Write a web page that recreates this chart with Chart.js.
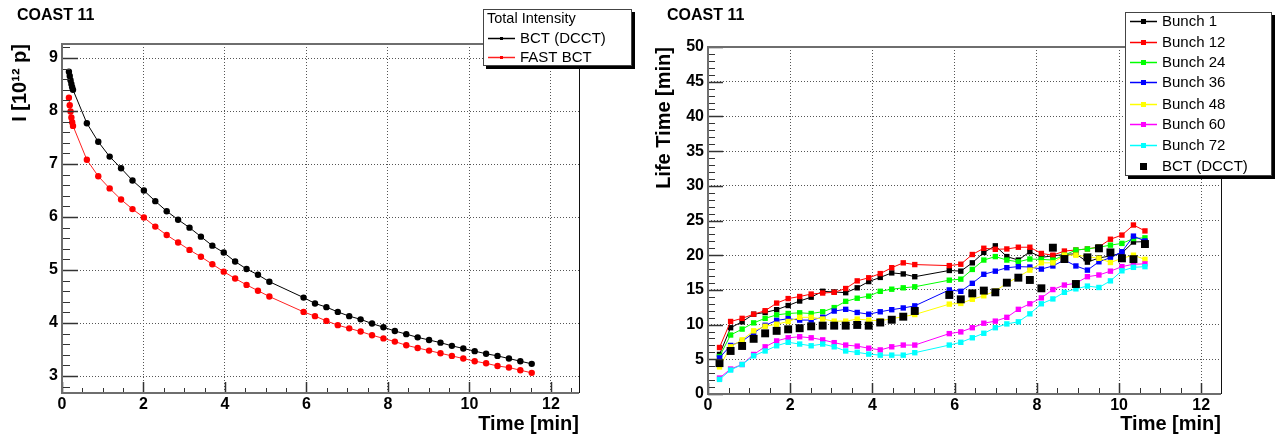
<!DOCTYPE html>
<html>
<head>
<meta charset="utf-8">
<title>COAST 11</title>
<script src="https://cdn.jsdelivr.net/npm/chart.js@4.4.0/dist/chart.umd.min.js"></script>
<style>
  html, body { margin: 0; padding: 0; background: #fff; }
  #wrap { position: relative; width: 1276px; height: 436px; }
  .panel { position: absolute; top: 0; width: 638px; height: 436px; }
  #p1 { left: 0; }
  #p2 { left: 638px; }
</style>
</head>
<body>
<div id="wrap">
  <div class="panel" id="p1"><canvas id="c1" width="638" height="436"></canvas></div>
  <div class="panel" id="p2"><canvas id="c2" width="638" height="436"></canvas></div>
</div>
<script>
'use strict';

// ---- left panel: total intensity [1e12 p] vs time [min]
const intensityTime = [0.17, 0.19, 0.21, 0.23, 0.25, 0.27, 0.61, 0.89, 1.17, 1.45, 1.73, 2.01, 2.29, 2.57,
  2.85, 3.13, 3.41, 3.69, 3.97, 4.25, 4.53, 4.81, 5.09, 5.93, 6.21, 6.49, 6.77, 7.05, 7.33, 7.61, 7.89,
  8.17, 8.45, 8.73, 9.01, 9.29, 9.57, 9.85, 10.13, 10.41, 10.69, 10.97, 11.25, 11.53];
const bctDcct = [8.74, 8.66, 8.58, 8.51, 8.45, 8.40, 7.77, 7.42, 7.14, 6.92, 6.69, 6.50, 6.30, 6.11,
  5.95, 5.80, 5.63, 5.46, 5.33, 5.16, 5.02, 4.91, 4.78, 4.48, 4.37, 4.30, 4.21, 4.13, 4.07, 3.99, 3.92,
  3.85, 3.79, 3.73, 3.68, 3.63, 3.57, 3.52, 3.47, 3.42, 3.38, 3.33, 3.28, 3.23];
const fastBct = [8.25, 8.11, 7.99, 7.88, 7.79, 7.72, 7.08, 6.77, 6.54, 6.33, 6.15, 5.99, 5.82, 5.66,
  5.52, 5.38, 5.25, 5.11, 4.97, 4.84, 4.72, 4.61, 4.50, 4.21, 4.13, 4.04, 3.96, 3.90, 3.84, 3.77, 3.71,
  3.65, 3.58, 3.53, 3.48, 3.43, 3.38, 3.33, 3.28, 3.24, 3.19, 3.16, 3.11, 3.06];

// ---- right panel: life time [min] per bunch vs time [min]
const lifeTime = [0.28, 0.55, 0.83, 1.11, 1.39, 1.67, 1.95, 2.23, 2.51, 2.79, 3.07, 3.35, 3.63, 3.91,
  4.19, 4.47, 4.75, 5.03, 5.87, 6.15, 6.43, 6.71, 6.99, 7.27, 7.55, 7.83, 8.11, 8.39, 8.67, 8.95, 9.23,
  9.51, 9.79, 10.07, 10.35, 10.63];
const bunch1 = [5.7, 9.55, 10.4, 11.5, 11.75, 12.15, 12.75, 13.4, 13.95, 14.8, 14.7, 14.6, 15.3, 16.2,
  16.8, 17.45, 17.3, 16.9, 17.8, 17.7, 18.9, 20.4, 21.35, 19.8, 19.3, 20.5, 19.7, 19.9, 20.1, 20.2, 19.0,
  19.6, 19.9, 20.3, 21.9, 21.95];
const bunch12 = [6.7, 10.45, 10.9, 11.5, 12.0, 13.1, 13.75, 14.05, 14.4, 14.55, 14.65, 15.2, 16.3, 16.75,
  17.35, 18.2, 18.9, 18.65, 18.5, 18.7, 20.1, 21.0, 20.85, 20.9, 21.15, 21.15, 20.25, 20.0, 20.6, 20.75,
  20.9, 21.2, 22.3, 22.9, 24.35, 23.5];
const bunch24 = [5.4, 8.5, 9.35, 10.25, 10.9, 11.4, 11.6, 11.7, 11.6, 11.85, 12.45, 13.35, 13.8, 14.1,
  14.8, 15.1, 15.3, 15.45, 16.4, 16.55, 17.95, 19.3, 19.8, 19.3, 19.05, 19.45, 19.4, 19.3, 20.0, 20.75,
  20.9, 21.15, 21.45, 21.7, 22.4, 22.5];
const bunch36 = [5.2, 7.0, 7.6, 8.8, 9.9, 10.6, 10.85, 10.65, 10.65, 11.05, 11.95, 12.2, 11.75, 11.5,
  11.85, 12.15, 12.4, 12.7, 15.0, 14.8, 15.95, 17.25, 17.7, 18.2, 18.35, 18.3, 18.0, 18.45, 19.3, 18.45,
  17.85, 19.05, 19.65, 20.5, 22.75, 22.05];
const bunch48 = [3.9, 6.8, 7.8, 9.1, 9.75, 10.05, 10.45, 11.05, 11.05, 10.8, 10.5, 10.5, 10.8, 10.65,
  10.55, 10.85, 11.15, 11.45, 12.95, 13.05, 13.65, 14.15, 14.85, 15.95, 16.9, 17.85, 18.9, 18.9, 20.0,
  20.0, 19.8, 19.55, 18.95, 19.55, 20.0, 19.4];
const bunch60 = [2.3, 3.6, 4.25, 5.7, 6.8, 7.65, 8.1, 8.25, 8.1, 7.8, 7.4, 7.05, 6.9, 6.6, 6.35, 6.8,
  7.05, 7.05, 8.7, 8.95, 9.55, 10.2, 10.5, 11.05, 12.2, 13.0, 13.85, 15.05, 15.7, 15.95, 16.9, 17.15,
  17.7, 18.35, 18.7, 18.75];
const bunch72 = [2.1, 3.45, 4.25, 5.5, 6.2, 6.95, 7.45, 7.2, 6.95, 7.2, 6.8, 6.2, 6.0, 5.75, 5.6, 5.6,
  5.6, 5.95, 7.05, 7.45, 8.1, 8.75, 9.55, 10.1, 10.4, 11.55, 13.0, 13.7, 14.65, 15.15, 15.55, 15.35,
  16.3, 17.75, 18.25, 18.35];
const dcctLife = [4.45, 6.2, 6.92, 7.95, 8.74, 9.1, 9.32, 9.48, 9.75, 9.85, 9.85, 9.85, 9.95, 9.85,
  10.3, 10.7, 11.14, 11.96, 14.27, 13.64, 14.5, 14.9, 14.65, 16.04, 16.76, 16.43, 15.23, 21.08, 19.45,
  15.85, 19.69, 20.99, 20.4, 19.55, 19.43, 21.61];

const bunchNames = ['Bunch 1', 'Bunch 12', 'Bunch 24', 'Bunch 36', 'Bunch 48', 'Bunch 60', 'Bunch 72'];
const bunchSeries = [bunch1, bunch12, bunch24, bunch36, bunch48, bunch60, bunch72];
const bunchColors = ['#000000', '#ff0000', '#00ff00', '#0000ff', '#ffff00', '#ff00ff', '#00ffff'];

const FONT = '"Liberation Sans", Arial, Helvetica, sans-serif';

function pts(xs, ys) {
  return xs.map((x, i) => ({x: x, y: ys[i]}));
}

// ROOT-like look: inward ticks, frame, pad title and a boxed legend with shadow
const rootStyle = {
  id: 'rootStyle',
  afterDraw(chart, args, o) {
    const ctx = chart.ctx;
    const a = chart.chartArea;
    const xs = chart.scales.x, ys = chart.scales.y;
    const isMajor = (v, m) => Math.abs(v / m - Math.round(v / m)) < 1e-6;
    ctx.save();

    ctx.strokeStyle = '#333';
    for (let k = Math.ceil(xs.min / o.minorX - 1e-9); k * o.minorX <= xs.max + 1e-9; k++) {
      const v = k * o.minorX;
      const big = isMajor(v, o.majorX);
      const px = Math.round(xs.getPixelForValue(v)) + 0.5;
      ctx.lineWidth = big ? 1.5 : 1;
      ctx.beginPath();
      ctx.moveTo(px, a.bottom);
      ctx.lineTo(px, a.bottom - (big ? o.tickX[0] : o.tickX[1]));
      ctx.stroke();
    }
    for (let k = Math.ceil(ys.min / o.minorY - 1e-9); k * o.minorY <= ys.max + 1e-9; k++) {
      const v = k * o.minorY;
      const big = isMajor(v, o.majorY);
      const py = Math.round(ys.getPixelForValue(v)) + 0.5;
      ctx.lineWidth = big ? 1.5 : 1;
      ctx.beginPath();
      ctx.moveTo(a.left, py);
      ctx.lineTo(a.left + (big ? o.tickY[0] : o.tickY[1]), py);
      ctx.stroke();
    }

    // frame
    ctx.lineWidth = 2;
    ctx.strokeStyle = '#6e6e6e';
    ctx.beginPath();
    ctx.moveTo(a.right, a.top);
    ctx.lineTo(a.left, a.top);
    ctx.lineTo(a.left, a.bottom);
    ctx.lineTo(a.right, a.bottom);
    ctx.stroke();
    ctx.lineWidth = 1;
    ctx.strokeStyle = '#111';
    ctx.beginPath();
    ctx.moveTo(Math.round(a.right) + 0.5, a.top);
    ctx.lineTo(Math.round(a.right) + 0.5, a.bottom);
    ctx.stroke();

    // pad title
    ctx.fillStyle = '#000';
    ctx.font = 'bold 16px ' + FONT;
    ctx.textBaseline = 'middle';
    ctx.textAlign = 'left';
    ctx.fillText(o.title, o.titleX, 16);

    // legend
    const L = o.legend;
    const [bx, by, bw, bh] = L.box;
    ctx.fillStyle = '#000';
    ctx.fillRect(bx + 3, by + 3, bw, bh);
    ctx.fillStyle = '#fff';
    ctx.fillRect(bx, by, bw, bh);
    ctx.strokeStyle = '#444';
    ctx.lineWidth = 1;
    ctx.strokeRect(bx + 0.5, by + 0.5, bw - 1, bh - 1);
    ctx.fillStyle = '#000';
    if (L.header) {
      ctx.font = '14.5px ' + FONT;
      ctx.fillText(L.header, bx + 4, by + 10);
    }
    ctx.font = '15px ' + FONT;
    L.rows.forEach((yy, i) => {
      const ds = chart.data.datasets[i];
      const mx = (L.x0 + L.x1) / 2;
      if (ds.showLine) {
        ctx.strokeStyle = ds.borderColor;
        ctx.lineWidth = 1.5;
        ctx.beginPath();
        ctx.moveTo(L.x0, yy + 0.5);
        ctx.lineTo(L.x1, yy + 0.5);
        ctx.stroke();
      }
      ctx.fillStyle = ds.pointBackgroundColor;
      const s = L.marker[i];
      ctx.fillRect(mx - s / 2, yy + 0.5 - s / 2, s, s);
      ctx.fillStyle = '#000';
      ctx.fillText(ds.label, L.textX, yy + 1);
    });
    ctx.restore();
  }
};

function axisFont(size) {
  return {family: FONT, size: size, weight: 'bold', lineHeight: 1};
}

function linearAxis(min, max, step, fixed, title, titlePad) {
  return {
    type: 'linear',
    min: min,
    max: max,
    afterFit: fixed,
    ticks: {stepSize: step, includeBounds: false, color: '#000', font: axisFont(16), padding: 4, maxRotation: 0},
    grid: {color: '#555', lineWidth: 1, drawTicks: false},
    border: {display: false, dash: [1, 2]},
    title: {display: true, text: title, align: 'end', color: '#000', font: axisFont(20), padding: titlePad}
  };
}

// left chart
new Chart(document.getElementById('c1'), {
  type: 'scatter',
  data: {
    datasets: [{
      label: 'BCT (DCCT)',
      data: pts(intensityTime, bctDcct),
      showLine: true,
      borderColor: '#000',
      borderWidth: 1,
      pointBackgroundColor: '#000',
      pointBorderWidth: 0,
      pointRadius: 3.2
    }, {
      label: 'FAST BCT',
      data: pts(intensityTime, fastBct),
      showLine: true,
      borderColor: '#ff2020',
      borderWidth: 1,
      pointBackgroundColor: '#ff0000',
      pointBorderWidth: 0,
      pointRadius: 3.2,
      order: -1
    }]
  },
  options: {
    responsive: false,
    animation: false,
    layout: {padding: {top: 44, right: 59, left: 0, bottom: 0}},
    plugins: {
      legend: {display: false},
      tooltip: {enabled: false},
      rootStyle: {
        title: 'COAST 11', titleX: 17,
        minorX: 0.5, majorX: 2, tickX: [11, 5],
        minorY: 0.2, majorY: 1, tickY: [16, 8],
        legend: {box: [483, 9, 149, 57], header: 'Total Intensity', rows: [38, 57],
                 x0: 488, x1: 515, textX: 520, marker: [3, 3]}
      }
    },
    scales: {
      x: linearAxis(0, 12.69, 2, s => { s.height = 43; }, 'Time [min]', {top: 0, bottom: 2}),
      y: linearAxis(2.68, 9.265, 1, s => { s.width = 62; }, 'I [10¹² p]', {top: 10, bottom: 0})
    }
  },
  plugins: [rootStyle]
});

// right chart
const lifeSets = bunchNames.map((name, i) => ({
  label: name,
  data: pts(lifeTime, bunchSeries[i]),
  showLine: true,
  borderColor: bunchColors[i],
  borderWidth: 1,
  pointStyle: 'rect',
  pointBackgroundColor: bunchColors[i],
  pointBorderWidth: 0,
  pointRadius: 3.8,
  order: -i
}));
lifeSets.push({
  label: 'BCT (DCCT)',
  data: pts(lifeTime, dcctLife),
  showLine: false,
  borderColor: '#000',
  pointStyle: 'rect',
  pointBackgroundColor: '#000',
  pointBorderWidth: 0,
  pointRadius: 5.6,
  order: -10
});

new Chart(document.getElementById('c2'), {
  type: 'scatter',
  data: {datasets: lifeSets},
  options: {
    responsive: false,
    animation: false,
    layout: {padding: {top: 47, right: 55, left: 0, bottom: 0}},
    plugins: {
      legend: {display: false},
      tooltip: {enabled: false},
      rootStyle: {
        title: 'COAST 11', titleX: 29,
        minorX: 0.5, majorX: 2, tickX: [11, 6],
        minorY: 1, majorY: 5, tickY: [15, 7],
        legend: {box: [487, 12, 147, 164], header: null,
                 rows: [21, 42, 62, 82, 104, 124, 145, 166],
                 x0: 492, x1: 519, textX: 524, marker: [5, 5, 5, 5, 5, 5, 5, 7]}
      }
    },
    scales: {
      x: linearAxis(0, 12.48, 2, s => { s.height = 42; }, 'Time [min]', {top: 0, bottom: 2}),
      y: linearAxis(0, 50, 5, s => { s.width = 70; }, 'Life Time [min]', {top: 16, bottom: 0})
    }
  },
  plugins: [rootStyle]
});
</script>
</body>
</html>
